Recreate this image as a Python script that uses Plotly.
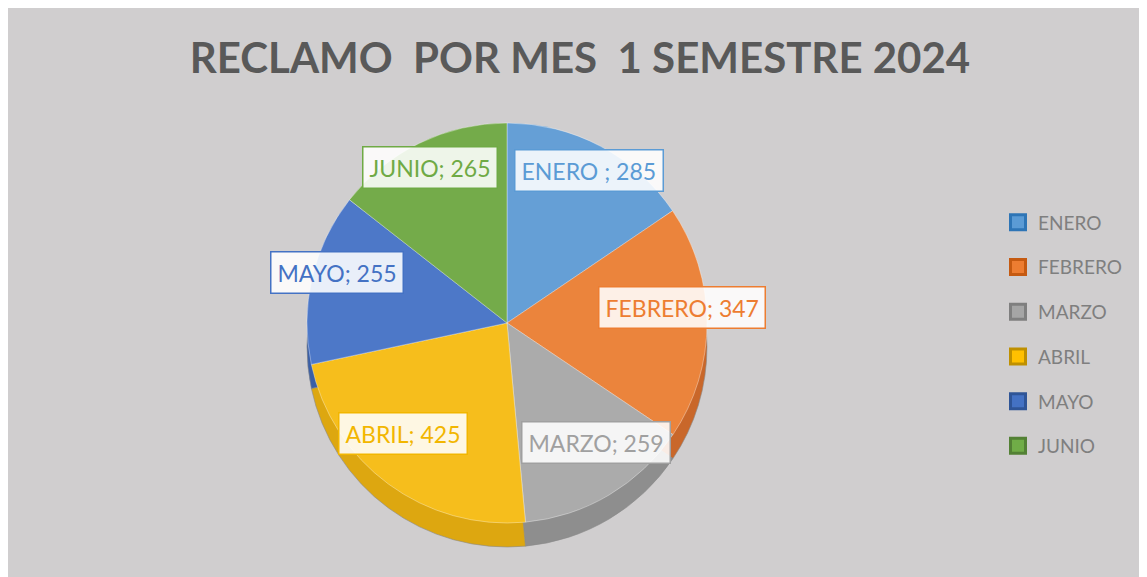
import math
import plotly.graph_objects as go

# ---- data ----
categories = ["ENERO ", "FEBRERO", "MARZO", "ABRIL", "MAYO", "JUNIO"]
values = [285, 347, 259, 425, 255, 265]
title_text = "RECLAMO  POR MES  1 SEMESTRE 2024"

# ---- style ----
top_colors = ["#659FD6", "#EB843C", "#ABABAB", "#F6BE1C", "#4D78C8", "#74AB4A"]
side_colors = ["#4A82BA", "#C9672A", "#8E8E8E", "#DDA710", "#3A5FA6", "#5A8E39"]
text_colors = ["#5B9BD5", "#ED7D31", "#A0A0A0", "#F2B600", "#4472C4", "#6FAA45"]
legend_colors = ["#5B9BD5", "#ED7D31", "#A5A5A5", "#FFC000", "#4472C4", "#70AD47"]
legend_border = ["#2E75B6", "#C55A11", "#7F7F7F", "#BF9000", "#2F5597", "#538135"]
bg = "#D0CECF"

W, H = 1147, 577
cx, cy = 499, 315          # pixel centre of top face (figure coords)
r = 200                    # radius of top face
depth = 24                 # 3D side offset


def dom(cxp, cyp, rad):
    return dict(x=[(cxp - rad) / W, (cxp + rad) / W],
                y=[(H - cyp - rad) / H, (H - cyp + rad) / H])


fig = go.Figure()

# side (depth) of the pie
fig.add_trace(go.Pie(
    labels=categories, values=values, sort=False, direction="clockwise",
    rotation=0, domain=dom(cx, cy + depth, r), textinfo="none",
    marker=dict(colors=side_colors, line=dict(color="#8a8a8a", width=0.6)),
    showlegend=False, hoverinfo="skip",
))

# top face
fig.add_trace(go.Pie(
    labels=categories, values=values, sort=False, direction="clockwise",
    rotation=0, domain=dom(cx, cy, r), textinfo="none",
    marker=dict(colors=top_colors, line=dict(color="rgba(255,255,255,0.35)", width=1)),
    showlegend=False,
))

# legend entries
for i, c in enumerate(categories):
    fig.add_trace(go.Scatter(
        x=[None], y=[None], mode="markers", name=c.strip(),
        legendgroup=c,
        marker=dict(symbol="square", size=15, color=legend_colors[i],
                    line=dict(color=legend_border[i], width=3)),
    ))

# data labels positioned from slice mid-angles
total = sum(values)
cum = 0
annotations = []
for i, (c, v) in enumerate(zip(categories, values)):
    mid = (cum + v / 2) / total * 2 * math.pi
    cum += v
    px = cx + 175 * math.sin(mid)
    py = cy - 15 - 0.78 * r * math.cos(mid)
    annotations.append(dict(
        x=px / W, y=(H - py) / H, xref="paper", yref="paper",
        xanchor="center", yanchor="middle",
        text=f"{c}; {v}", showarrow=False,
        font=dict(family="Lato, Open Sans, sans-serif", size=23, color=text_colors[i]),
        bgcolor="rgba(255,255,255,0.88)", bordercolor=text_colors[i],
        borderwidth=1.5, borderpad=6,
    ))

fig.update_layout(
    width=W, height=H,
    margin=dict(l=0, r=0, t=0, b=0),
    paper_bgcolor=bg, plot_bgcolor=bg,
    title=dict(text=title_text, x=572 / W, xanchor="center", y=(H - 50) / H, yanchor="middle",
               font=dict(family="Lato, sans-serif", size=42, color="#595959", weight="bold")),
    xaxis=dict(visible=False), yaxis=dict(visible=False),
    legend=dict(x=990 / W, xanchor="left", y=(H - 326.5) / H, yanchor="middle",
                font=dict(family="Lato, Open Sans, sans-serif", size=19, color="#7F7F7F"),
                tracegroupgap=17, itemwidth=30, bgcolor="rgba(0,0,0,0)"),
    annotations=annotations,
)

fig.write_html("out.html")
